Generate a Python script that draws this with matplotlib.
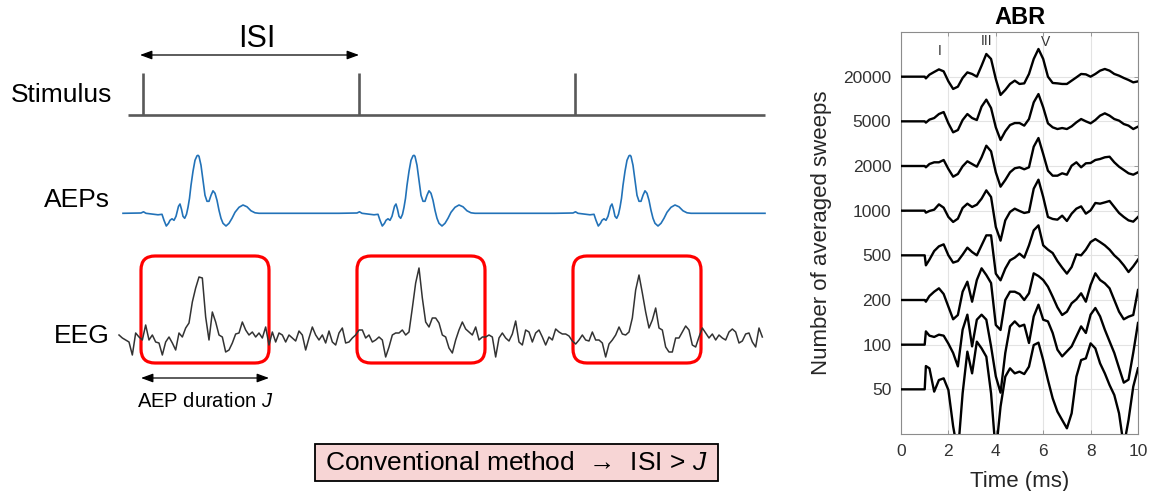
import numpy as np
import matplotlib
matplotlib.use('Agg')
import matplotlib.pyplot as plt
from matplotlib.patches import FancyBboxPatch, Rectangle

plt.rcParams['font.family'] = ['Liberation Sans', 'DejaVu Sans']
plt.rcParams['mathtext.fontset'] = 'custom'
plt.rcParams['mathtext.it'] = 'Liberation Sans:italic'
plt.rcParams['mathtext.rm'] = 'Liberation Sans'

# ---------------- data : left schematic ----------------
stim_times = [143, 359, 575]          # stimulus onsets (diagram time units)
trace_start = 128
trace_end = 765
aep_window = 128                      # AEP duration J

aep_dt = [-20, -2, 0.5, 3, 15, 19, 21, 23.3, 25.5, 27, 29, 31, 33, 35.5, 37, 38.5, 40, 41.7,
          43.5, 45, 46.5, 48, 50, 52, 54, 55, 56, 58, 60, 62, 64, 66, 68, 70, 72, 74, 76, 78,
          80, 83, 86, 89, 92, 96, 100, 104, 108, 112, 116]
aep_amp = [0, 0.3, 1.5, 0, -1.5, -1, -7, -12.7, -10, -7, -5.5, -7, -3, 7, 9.3, 4, -3, -5,
           -1, 6, 15, 28, 42, 53, 57.5, 58, 57, 48, 33, 18, 12, 12, 18, 22.5, 20, 13, 3, -5,
           -10, -12.7, -10, -5, 1, 6, 8.3, 6.5, 2.5, 0.5, 0]

eeg_start = 119
eeg_step = 10 / 3
eeg_amp = [
    2, -1, -3, -5, -18, 4, 0, -3, 12, -3,
    2, -5, -6, -18, -5, 0, -6, -13, 4, 0,
    9, 14, 35, 49, 60, 59, 20, -3, 25, 15,
    2, 0, -15, -13, -6, 3, 4, 15, 7, 2,
    5, 0, 4, -1, 10, -8, 5, -5, 4, 2,
    -5, 2, -1, -4, 6, 2, -13, -1, 10, 2,
    -3, 2, -6, 6, -5,
    -8, 4, 9, -6, -5, -1, 2, 7, 7, -1,
    2, -5, -3, 0, -3, -20, -10, 2, 4, 4,
    7, 2, 5, 29, 54, 69, 39, 15, 10, 19,
    19, 14, 2, 0, -11, -16, -3, 7, 15, 8,
    5, 2, 10, -3, 0, 0, 2, 0, -20, -1,
    4, -1, -4, 3, 16, -5, -8, 7, 5, -5,
    4, 7, 0, -8, 0,
    -3, 8, 5, 3, 3, 1, -4, -7, -3, 2,
    -3, -4, 5, -3, -3, -6, -20, -7, -3, 2,
    10, 3, 2, 5, 19, 47, 62, 44, 25, 9,
    17, 29, 9, 7, -10, -15, -15, -1, -1, 5,
    11, 7, -8, -10, 0, 9, 4, -1, 3, -3,
    2, -1, -3, 5, 8, 5, -6, -4, 3, 4,
    -5, -10, 9, 0]

# ---------------- data : ABR panel ----------------
abr_labels = ['50', '100', '200', '500', '1000', '2000', '5000', '20000']
abr_t = [0, 1.0, 1.05] + [round(1.2 + 0.2 * k, 2) for k in range(45)]
abr_20000 = [-1.7, 2, 4.7, 7.3, 5.3, -4.7, -12.3, -10, -1.3, 4.3, 2.7, 0, 11, 22.7, 17.7, -2.3,
             -18.3, -13.3, -7.3, -4, -7.3, -6.7, 2.7, 17.7, 27.7, 17.7, 0, -6.3, -6.7, -7.3,
             -7.3, -4, -0.7, 2.7, 2.3, 0, 2.7, 6, 7.7, 6, 2.7, 1, -1.3, -3.3, -5.7, -4.7]
abr_5000 = [-1.3, 1.7, 3.3, 7.3, 9.3, -2, -11, -8.7, 1.3, 7.3, 3.3, 1.3, 14.7, 21.7, 13.3, -6,
            -18.7, -10, -3.7, -1.7, -1.7, -4.3, 2.3, 19, 27.3, 14, -2, -6, -7.7, -6.7, -7.7,
            -5, -1, 2.3, 0, -2, 1.3, 5.7, 8, 5.7, 2.3, 0.7, -2.7, -4.3, -7.7, -5.3]
abr_2000 = [-1.3, 2, 3.7, 3.7, 6, -3, -10.7, -8, -0.3, 4.7, 2, -0.7, 8.7, 20.3, 14.7, -6.3,
            -20.7, -14, -6.3, -2.3, -1.3, -3.3, -1.3, 19.3, 28, 12, -4.7, -9.7, -9.7, -7.3,
            -8.7, 0.3, 3.7, -1.3, 2.7, 3, 6, 7, 8.7, 9.3, 3.7, -0.7, -4, -7.3, -8.7, -6.3]
abr_1000 = [-2, -0.3, 1, 6.3, 3, -6.3, -11.3, -8, 2.7, 7, 3.7, 6, 12, 20.3, 13.7, -16.3, -30,
            -9.7, -1.3, 2, -0.3, -2.3, -1.3, 22, 31, 13.7, -6.3, -8.3, -9, -5, -10.3, -3, 2,
            4.3, -3, 0.3, 7.7, 7, 8.3, 9.7, 3.7, -2.3, -6.3, -9.7, -11, -6.3]
abr_500 = [-10, -4.3, 4.3, 9, 11, 0, -7.3, -5.7, 0.7, 7.7, 3.3, 0, 10, 20, 20, -18.3, -25,
           -13.3, -5, -2.3, 1.7, -2.3, 10, 25, 30, 10, 5.7, 2.3, -5.7, -12.3, -18.3, -11.7, 1,
           0, 5.7, 13.3, 16.3, 13.3, 10, 5.7, 0, -4.3, -10, -16.7, -11, -4.3]
abr_200 = [-1.7, 4, 8.3, 11.7, 6, -6.7, -19.3, -15, 8.3, 18.3, -1.7, 20, 31.7, 25, 17, -25,
           -30, 0, 8.3, 8.3, 6, 0, 6.7, 26.7, 24, 20, 13.3, 3.3, -7.3, -15, -11.7, -3.3, 0.7,
           6.7, -1.7, 15, 26.7, 20, 16.7, 11.7, 0, -11.7, -19.3, -16.7, -15, 10]
abr_100 = [13.3, 9, 7.7, 10, 9, 1, -8.3, -21.7, 15, 30, -1.7, 25, 30, 25, -1.7, -31.7, -48,
           -8.3, 18.3, 23.3, 18.3, 20, 1.7, 28.3, 40, 25, 23.3, 11.7, -5, -11.7, -6.7, -1.7,
           8.3, 18.3, 11.7, 30, 36.7, 28.3, 15, 3.3, -8.3, -23.3, -38, -35, -8, 21.7]
abr_50 = [23.3, 21, -2.3, 9.3, 11, -0.7, -37, -64, -4, 37.7, 16, 47.7, 41, 32.7, -4, -64,
          -17.3, 12.7, 21, 16, 17.7, 15.3, 22.7, 44.3, 46.7, 29.3, 9.3, -9, -22.3, -30.7, -39,
          -24, 12.7, 29.3, 31, 46, 41, 26, 16, 4.3, -5.7, -24, -57, -30.7, 2.7, 21]
abr_traces = [abr_50, abr_100, abr_200, abr_500, abr_1000, abr_2000, abr_5000, abr_20000]
abr_gain = 1 / 44.7
peak_names = ['I', 'III', 'V']
peak_times = [1.62, 3.61, 6.08]
peak_label_y = [8.49, 8.70, 8.68]

# ---------------- figure ----------------
W, H = 1153, 491
fig = plt.figure(figsize=(W / 100, H / 100), dpi=100)
ax0 = fig.add_axes([0, 0, 1, 1])
ax0.set_xlim(0, W)
ax0.set_ylim(H, 0)
ax0.axis('off')

stim_base, stim_h = 115, 42
aep_base = 213.3
eeg_base = 337

# Stimulus row
ax0.plot([trace_start, trace_end], [stim_base, stim_base], color='#595959', lw=1.9,
         solid_capstyle='butt')
ax0.vlines(stim_times, stim_base, stim_base - stim_h, color='#595959', lw=1.9)

# AEP row
xs, ys = [], []
for s in stim_times:
    xs.extend(np.array(aep_dt) + s)
    ys.extend(aep_amp)
xs.append(trace_end)
ys.append(0)
ax0.plot(xs, aep_base - np.array(ys), color='#2272b8', lw=1.2)

# EEG row
eeg_x = eeg_start + np.arange(len(eeg_amp)) * eeg_step
ax0.plot(eeg_x, eeg_base - np.array(eeg_amp), color='#333333', lw=1.1)

# red windows
for s in stim_times:
    ax0.add_patch(FancyBboxPatch((s - 2, 256), aep_window, 107,
                                 boxstyle='round,pad=0,rounding_size=14',
                                 ec='#ff0000', fc='none', lw=2.3))

# ISI arrow
arrow_kw = dict(arrowstyle='<|-|>,head_length=0.6,head_width=0.22', color='black', lw=0.9,
                mutation_scale=12, shrinkA=0, shrinkB=0)
ax0.annotate('', xy=(stim_times[1], 55), xytext=(stim_times[0] - 3, 55), arrowprops=arrow_kw)
ax0.text((stim_times[0] + stim_times[1]) / 2 + 6, 47, 'ISI', fontsize=22, ha='center',
         va='baseline')

# AEP duration arrow
ax0.annotate('', xy=(stim_times[0] - 2 + aep_window, 378), xytext=(stim_times[0] - 2, 378),
             arrowprops=arrow_kw)
ax0.text(205, 407, 'AEP duration $J$', fontsize=14.5, ha='center', va='baseline')

# row labels
ax0.text(112, 102, 'Stimulus', fontsize=19, ha='right', va='baseline')
ax0.text(110, 207, 'AEPs', fontsize=19, ha='right', va='baseline')
ax0.text(110, 343, 'EEG', fontsize=19, ha='right', va='baseline')

# conventional method box
ax0.add_patch(Rectangle((315, 444), 403, 37, fc='#f7d5d5', ec='black', lw=1.3))
ax0.text(516, 470, 'Conventional method  \u2192  ISI > $J$', fontsize=19, ha='center',
         va='baseline')

# ---------------- ABR axes ----------------
ax = fig.add_axes([901 / W, 1 - 434 / H, 237 / W, 402 / H])
for k, tr in enumerate(abr_traces, start=1):
    vals = np.array([0, 0] + tr) * abr_gain + k
    ax.plot(abr_t, vals, color='black', lw=1.7, zorder=3, solid_joinstyle='round')

ax.set_xlim(0, 10)
ax.set_ylim(0, 9)
ax.set_xticks(range(0, 11, 2))
ax.set_yticks(range(1, 9))
ax.set_yticklabels(abr_labels)
ax.grid(True, color='#e3e3e3', lw=0.8, zorder=0)
ax.tick_params(direction='in', length=3, width=0.6, colors='#8c8c8c', labelcolor='#333333',
               labelsize=12.5, top=True, right=True)
ax.tick_params(axis='x', pad=7)
ax.tick_params(axis='y', pad=7)
for sp in ax.spines.values():
    sp.set_color('#8c8c8c')
    sp.set_linewidth(0.8)

ax.set_title('ABR', fontsize=17, fontweight='bold', pad=6)
ax.set_xlabel('Time (ms)', fontsize=16, color='#262626', labelpad=9)
ax.set_ylabel('Number of averaged sweeps', fontsize=16, color='#262626')
ax.yaxis.set_label_coords(-0.29, 0.5)

for name, t, yl in zip(peak_names, peak_times, peak_label_y):
    ax.text(t, yl, name, fontsize=10, ha='center', va='baseline', color='#333333')

fig.savefig('out.png', dpi=100)
